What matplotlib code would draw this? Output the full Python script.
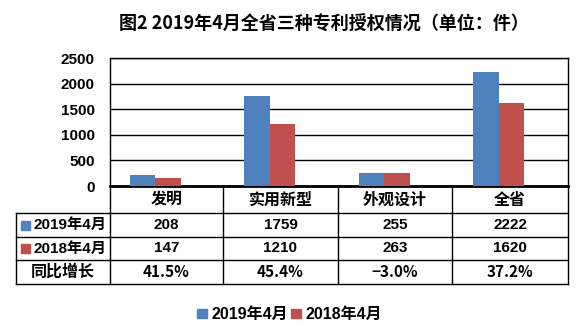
import matplotlib.pyplot as plt
from matplotlib.patches import Rectangle
import numpy as np

plt.rcParams['font.family'] = ['Liberation Sans', 'Noto Sans CJK SC', 'DejaVu Sans']

categories = ['发明', '实用新型', '外观设计', '全省']
series_names = ['2019年4月', '2018年4月']
values_2019 = [208, 1759, 255, 2222]
values_2018 = [147, 1210, 263, 1620]
growth = ['41.5%', '45.4%', '−3.0%', '37.2%']
colors = ['#4F81BD', '#C0504D']
yticks = [0, 500, 1000, 1500, 2000, 2500]

W, H = 588, 336
fig = plt.figure(figsize=(W / 100, H / 100), dpi=100)

# plot area in pixels
left, right, top, bottom = 110, 568, 58, 186
ax = fig.add_axes([left / W, 1 - bottom / H, (right - left) / W, (bottom - top) / H])

x = np.arange(len(categories))
bw = 0.223
shift = -0.105  # bars sit a bit left of the table columns, like the original
ax.bar(x + shift - bw / 2, values_2019, bw, color=colors[0], zorder=3)
ax.bar(x + shift + bw / 2, values_2018, bw, color=colors[1], zorder=3)
ax.set_xlim(-0.5, len(categories) - 0.5)
ax.set_ylim(0, 2500)
ax.set_yticks(yticks)
ax.set_yticklabels([str(t) for t in yticks], fontsize=11, fontweight='bold')
ax.set_xticks([])
ax.tick_params(axis='y', length=0, pad=11)
ax.grid(axis='y', color='black', linewidth=1, zorder=0)
for s in ['top', 'right', 'left']:
    ax.spines[s].set_linewidth(1)
ax.spines['bottom'].set_linewidth(2)

# data table below the plot, in pixel coordinates
tx = fig.add_axes([0, 0, 1, 1])
tx.set_xlim(0, W)
tx.set_ylim(H, 0)
tx.axis('off')
cols = [16, 110, 223, 338, 452, 568]
rows = [186, 213, 237, 260, 284]
cjk = ['Noto Sans CJK SC', 'Liberation Sans']
lw = 1
for yy in rows[1:]:
    tx.plot([cols[0], cols[-1]], [yy, yy], color='black', lw=lw)
tx.plot([cols[0], cols[0]], [rows[1], rows[-1]], color='black', lw=lw)
for xx in cols[1:]:
    tx.plot([xx, xx], [rows[0], rows[-1]], color='black', lw=lw)

def mid(a, i):
    return (a[i] + a[i + 1]) / 2

for i, c in enumerate(categories):
    tx.text(mid(cols, i + 1), mid(rows, 0), c, ha='center', va='center',
            fontsize=11.5, fontweight='bold', family=cjk)
for r, vals in enumerate([values_2019, values_2018]):
    yy = mid(rows, r + 1)
    tx.add_patch(Rectangle((21, yy - 4.5), 9, 9, color=colors[r]))
    tx.text(33, yy, series_names[r], ha='left', va='center', fontsize=11, fontweight='bold')
    for i, v in enumerate(vals):
        tx.text(mid(cols, i + 1), yy, str(v), ha='center', va='center',
                fontsize=11, fontweight='bold')
yy = mid(rows, 3)
tx.text(mid(cols, 0), yy, '同比增长', ha='center', va='center',
        fontsize=11.5, fontweight='bold', family=cjk)
for i, g in enumerate(growth):
    tx.text(mid(cols, i + 1), yy, g, ha='center', va='center',
            fontsize=11, fontweight='bold', family=cjk)

# legend
tx.add_patch(Rectangle((197, 309), 10, 9, color=colors[0]))
tx.text(211, 314, series_names[0], ha='left', va='center', fontsize=11.5, fontweight='bold')
tx.add_patch(Rectangle((291, 309), 10, 9, color=colors[1]))
tx.text(306, 314, series_names[1], ha='left', va='center', fontsize=11.5, fontweight='bold')

# title
tx.text(324, 23, '图2 2019年4月全省三种专利授权情况（单位：件）', ha='center', va='center',
        fontsize=13, fontweight='bold', family=cjk)

fig.savefig('out.png', dpi=100)
